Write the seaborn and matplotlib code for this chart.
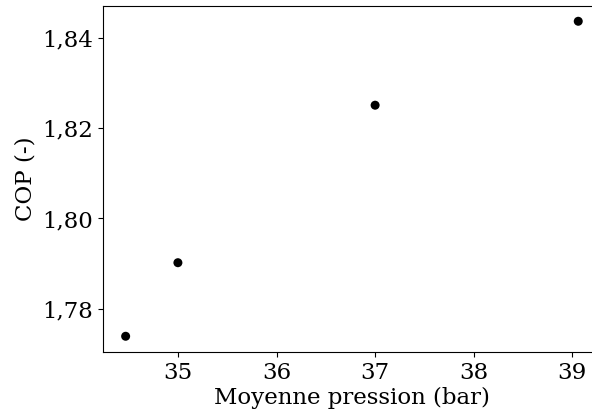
import seaborn as sns
import matplotlib.pyplot as plt
import pandas as pd
from matplotlib.ticker import FuncFormatter

# Values
pression = [34.47, 35.0, 37.0, 39.06]
cop = [1.7739, 1.7902, 1.8251, 1.8437]

df = pd.DataFrame({'pression': pression, 'cop': cop})

plt.rcParams['font.family'] = ['DejaVu Serif']

fig = plt.figure(figsize=(5.92, 4.12), dpi=100)
ax = fig.add_axes([0.174, 0.1456, 0.841, 0.841])
sns.scatterplot(x='pression', y='cop', data=df, ax=ax, color='black', s=42, edgecolor='none')

ax.set_xlabel('Moyenne pression (bar)', fontsize=16.5, labelpad=2)
ax.set_ylabel('COP (-)', fontsize=16.5)
ax.tick_params(labelsize=16.5)
ax.set_yticks([1.78, 1.80, 1.82, 1.84])
ax.yaxis.set_major_formatter(FuncFormatter(lambda v, p: f'{v:.2f}'.replace('.', ',')))

fig.savefig('out.png', dpi=100)
